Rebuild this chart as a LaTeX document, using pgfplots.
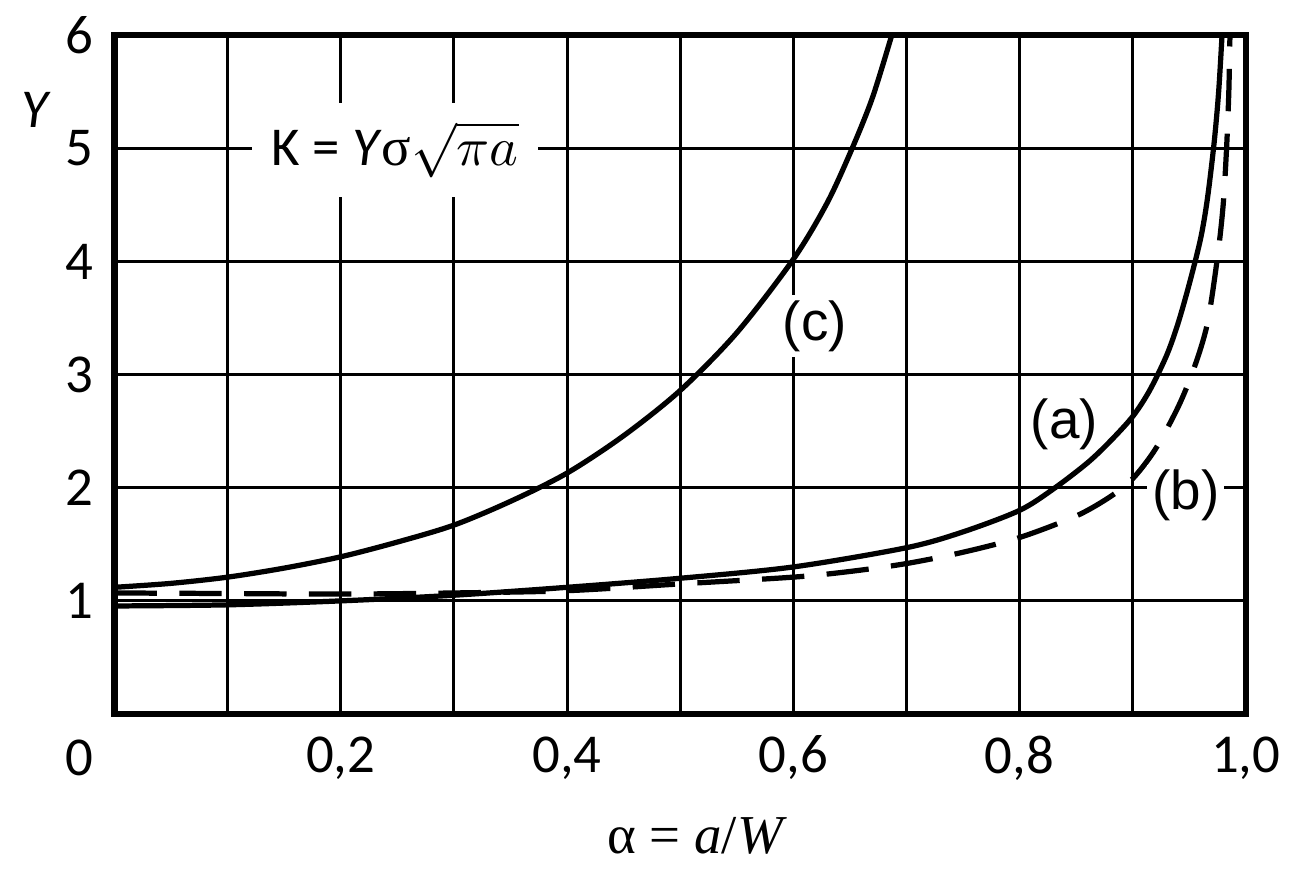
\documentclass[border=0pt]{standalone}
\usepackage{fontspec}
\setmainfont{Carlito}
\newfontfamily\arial{Liberation Sans}
\newfontfamily\tnr{Liberation Serif}
\usepackage{pgfplots}
\pgfplotsset{compat=1.18}

\begin{document}
\begin{tikzpicture}
\begin{axis}[
    width=227pt, height=136.2pt, scale only axis,
    xmin=0, xmax=1, ymin=0, ymax=6,
    xtick={0.2,0.4,0.6,0.8,1.0},
    minor xtick={0.1,0.3,0.5,0.7,0.9},
    ytick={1,2,3,4,5,6},
    grid=both,
    major grid style={line width=0.6pt, black},
    minor grid style={line width=0.6pt, black},
    major tick length=0pt, minor tick length=0pt,
    axis line style={line width=1.25pt},
    /pgf/number format/assume math mode=true,
    /pgf/number format/use comma,
    xticklabel={\pgfmathprintnumber[fixed,fixed zerofill,precision=1]{\tick}},
    xticklabel style={anchor=center, yshift=-8.8pt, font=\fontsize{11}{13}\selectfont},
    yticklabel style={anchor=center, xshift=-7pt, font=\fontsize{11}{13}\selectfont},
    clip mode=individual,
]
% invisible frame giving the picture the reference proportions
\path (axis cs:-0.1013,-1.313) rectangle (axis cs:1.0414,6.308);

% (c)
\addplot[black, line width=1.05pt, smooth] coordinates {
    (0,1.12) (0.05,1.155) (0.1,1.21) (0.15,1.29) (0.2,1.39) (0.25,1.52)
    (0.3,1.67) (0.35,1.88) (0.4,2.13) (0.45,2.46) (0.5,2.86) (0.55,3.37)
    (0.6,4.02) (0.63,4.52) (0.652,5.0) (0.67,5.45) (0.687,6.0)
};
% (a)
\addplot[black, line width=1.05pt, smooth] coordinates {
    (0,0.955) (0.1,0.965) (0.2,1.0) (0.3,1.05) (0.4,1.12) (0.5,1.20)
    (0.6,1.30) (0.7,1.47) (0.75,1.61) (0.8,1.80) (0.83,1.99) (0.86,2.22)
    (0.88,2.41) (0.9,2.63) (0.915,2.86) (0.93,3.17) (0.94,3.45) (0.95,3.8)
    (0.96,4.2) (0.966,4.55) (0.972,5.05) (0.976,5.5) (0.979,6.0)
};
% (b)
\addplot[black, line width=1.05pt, dash pattern=on 8.5pt off 4.5pt, smooth] coordinates {
    (0,1.07) (0.1,1.065) (0.2,1.06) (0.3,1.07) (0.4,1.09) (0.5,1.15)
    (0.6,1.21) (0.65,1.26) (0.7,1.33) (0.75,1.43) (0.8,1.56) (0.85,1.75)
    (0.88,1.92) (0.9,2.08) (0.92,2.34) (0.94,2.71) (0.954,3.05) (0.966,3.45)
    (0.975,4.04) (0.98,4.5) (0.983,5.0) (0.985,5.5) (0.986,6.0)
};

\node[fill=white, inner sep=0pt, minimum width=57.4pt, minimum height=18.8pt,
      font=\fontsize{11}{13}\selectfont] at (axis cs:0.248,4.987)
      {K = \textit{Y}{\tnr σ}$\sqrt{\pi a}$};
\node[fill=white, inner sep=1pt, font=\arial\fontsize{11}{13}\selectfont] at (axis cs:0.619,3.43) {(c)};
\node[inner sep=1pt, font=\arial\fontsize{11}{13}\selectfont] at (axis cs:0.8396,2.564) {(a)};
\node[fill=white, inner sep=1pt, font=\arial\fontsize{11}{13}\selectfont] at (axis cs:0.947,1.93) {(b)};

\node[font=\fontsize{11}{13}\selectfont\itshape] at (axis cs:-0.0705,5.34) {Y};
\node[font=\fontsize{11}{13}\selectfont] at (axis cs:-0.0308,-0.388) {0};
\node[font=\tnr\fontsize{11}{13}\selectfont] at (axis cs:0.515,-1.075) {α = \textit{a}/\textit{W}};
\end{axis}
\end{tikzpicture}
\end{document}
